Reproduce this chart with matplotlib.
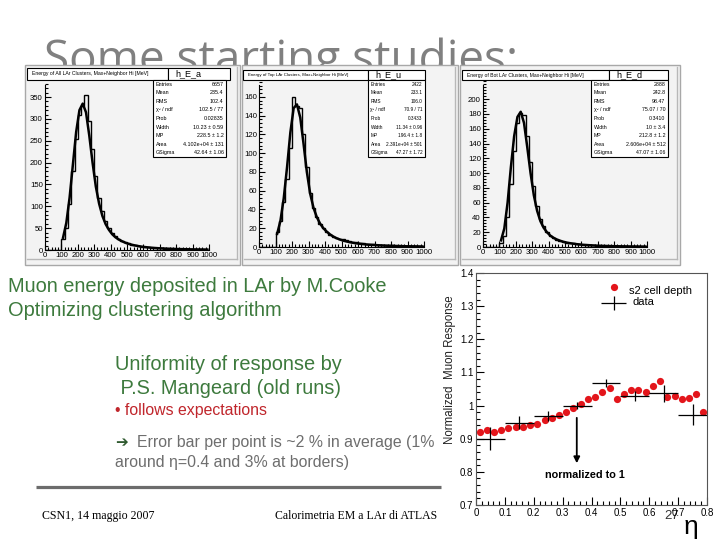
import matplotlib
matplotlib.use("Agg")
import matplotlib.pyplot as plt
from matplotlib.patches import Rectangle
from matplotlib.ticker import MultipleLocator, FormatStrFormatter
import numpy as np

plt.rcParams["font.family"] = ["Liberation Sans", "DejaVu Sans"]

W, H = 720, 540

# histogram panels: counts in 20 MeV bins from 100 MeV on (below 100 MeV: empty)
bin_edges = np.arange(0, 1001, 20)
fit_e = bin_edges[5:-1] + 10

all_counts = [25, 50, 105, 180, 255, 310, 330, 355, 295, 230, 170, 120, 90, 66, 50,
              40, 32, 26, 21, 18, 15, 12, 11, 9, 8, 7, 6, 5, 5, 4,
              4, 3, 3, 3, 2, 2, 2, 2, 2, 1, 1, 1, 1, 1, 1]
all_fit = [28, 62, 120, 195, 270, 320, 335, 315, 262, 200, 145, 106, 78, 59, 46,
           36, 29, 24, 20, 16.5, 14, 12, 10.3, 8.9, 7.7, 6.7, 5.9, 5.2, 4.6, 4.1,
           3.7, 3.3, 3.0, 2.7, 2.4, 2.2, 2.0, 1.8, 1.65, 1.5, 1.4, 1.3, 1.2, 1.1, 1.0]

top_counts = [16, 28, 48, 72, 105, 160, 150, 148, 120, 85, 58, 42, 32, 25, 20,
              16, 13, 11, 10, 9, 8, 7, 6, 5, 5, 4, 4, 3, 3, 3,
              2, 2, 2, 2, 2, 2, 1, 1, 1, 1, 1, 1, 1, 1, 1]
top_fit = [14, 28, 52, 85, 122, 148, 152, 138, 110, 80, 57, 42, 32, 25, 20,
           16.5, 13.5, 11.2, 9.4, 8, 6.8, 5.9, 5.1, 4.5, 3.9, 3.5, 3.1, 2.7, 2.4, 2.2,
           2.0, 1.8, 1.6, 1.4, 1.3, 1.2, 1.1, 1.0, 0.9, 0.8, 0.75, 0.7, 0.65, 0.6, 0.55]

bot_counts = [6, 15, 40, 85, 130, 168, 182, 178, 150, 115, 82, 55, 38, 28, 20,
              15, 12, 10, 8, 7, 6, 5, 5, 4, 4, 3, 3, 3, 3, 2,
              2, 2, 2, 2, 1, 1, 1, 1, 1, 1, 1, 1, 1, 1, 1]
bot_fit = [9, 25, 60, 108, 150, 176, 183, 168, 135, 100, 70, 49, 35, 26, 20,
           15.5, 12.5, 10.2, 8.5, 7.1, 6.0, 5.2, 4.5, 3.9, 3.4, 3.0, 2.7, 2.4, 2.1, 1.9,
           1.7, 1.5, 1.4, 1.25, 1.15, 1.05, 0.95, 0.88, 0.8, 0.74, 0.68, 0.63, 0.58, 0.54, 0.5]

hist_titles = ["Energy of All LAr Clusters, Max+Neighbor Hi [MeV]",
               "Energy of Top LAr Clusters, Max+Neighbor Hi [MeV]",
               "Energy of Bot LAr Clusters, Max+Neighbor Hi [MeV]"]
hist_names = ["h_E_a", "h_E_u", "h_E_d"]

stat_labels = ["Entries", "Mean", "RMS", "χ² / ndf", "Prob", "Width", "MP", "Area", "GSigma"]
stats_all = ["6657", "235.4", "102.4", "102.5 / 77", "0.02835", "10.23 ± 0.59",
             "228.5 ± 1.2", "4.102e+04 ± 131", "42.64 ± 1.06"]
stats_top = ["2422", "233.1", "106.0", "70.9 / 71", "0.3433", "11.34 ± 0.96",
             "196.4 ± 1.8", "2.391e+04 ± 501", "47.27 ± 1.72"]
stats_bot = ["2888", "242.8", "98.47", "75.07 / 70", "0.3410", "10 ± 3.4",
             "212.8 ± 1.2", "2.606e+04 ± 512", "47.07 ± 1.06"]

# uniformity plot
eta_sim = [0.0125, 0.0375, 0.0625, 0.0875, 0.1125, 0.1375, 0.1625, 0.1875,
           0.2125, 0.2375, 0.2625, 0.2875, 0.3125, 0.3375, 0.3625, 0.3875,
           0.4125, 0.4375, 0.4625, 0.4875, 0.5125, 0.5375, 0.5625, 0.5875,
           0.6125, 0.6375, 0.6625, 0.6875, 0.7125, 0.7375, 0.7625, 0.7875]
resp_sim = [0.920, 0.925, 0.920, 0.925, 0.932, 0.934, 0.934, 0.942,
            0.945, 0.955, 0.962, 0.972, 0.982, 0.992, 1.005, 1.020,
            1.027, 1.042, 1.054, 1.019, 1.036, 1.046, 1.048, 1.040,
            1.059, 1.073, 1.026, 1.029, 1.019, 1.022, 1.034, 0.980]
eta_data = [0.05, 0.15, 0.25, 0.35, 0.45, 0.55, 0.65, 0.75]
resp_data = [0.900, 0.948, 0.968, 1.000, 1.067, 1.030, 1.037, 0.972]
err_data = [0.035, 0.02, 0.015, 0.01, 0.012, 0.015, 0.025, 0.032]


def box(x0, y0, x1, y1):
    return [x0 / W, 1 - y1 / H, (x1 - x0) / W, (y1 - y0) / H]


fig = plt.figure(figsize=(7.2, 5.4), dpi=100)
bg = fig.add_axes([0, 0, 1, 1])
bg.set_xlim(0, W)
bg.set_ylim(H, 0)
bg.axis("off")

bg.text(44, 73, "Some starting studies:", fontsize=33, color="#808080",
        family=["Open Sans", "DejaVu Sans"], va="baseline", zorder=0.5)

# panels: window, plot box, title box, stats box
panels = [
    dict(win=(25, 65, 240, 265), plot=(45, 80, 209, 250), ymax=389, step=50,
         tbox=(27, 68, 168, 80), nbox=(168, 68, 230, 80), sbox=(153, 80, 226, 157),
         counts=all_counts, fit=all_fit, stats=stats_all, fs=3.9),
    dict(win=(242, 65, 458, 265), plot=(259, 80, 424, 247), ymax=178, step=20,
         tbox=(243, 70, 368, 80), nbox=(368, 70, 425, 80), sbox=(368, 80, 425, 157),
         counts=top_counts, fit=top_fit, stats=stats_top, fs=3.4),
    dict(win=(460, 65, 680, 265), plot=(483, 80, 647, 247), ymax=226, step=20,
         tbox=(462, 70, 609, 80), nbox=(609, 70, 668, 80), sbox=(591, 80, 668, 157),
         counts=bot_counts, fit=bot_fit, stats=stats_bot, fs=3.8),
]

for i, p in enumerate(panels):
    x0, y0, x1, y1 = p["win"]
    bg.add_patch(Rectangle((x0, y0), x1 - x0, y1 - y0, facecolor="#f3f3f3",
                           edgecolor="#a8a8a8", lw=1.0, zorder=2))
    bg.plot([x1 - 3, x1 - 3], [y0 + 2, y1 - 6], color="#b8b8b8", lw=1, zorder=2.1)
    bg.plot([x0 + 2, x1 - 3], [y1 - 6, y1 - 6], color="#b8b8b8", lw=1, zorder=2.1)

    tx0, ty0, tx1, ty1 = p["tbox"]
    bg.add_patch(Rectangle((tx0, ty0), tx1 - tx0, ty1 - ty0, facecolor="white",
                           edgecolor="black", lw=0.8, zorder=3))
    bg.text(tx0 + 5, (ty0 + ty1) / 2, hist_titles[i], fontsize=p["fs"] - 0.2,
            va="center", zorder=4)
    nx0, ny0, nx1, ny1 = p["nbox"]
    bg.add_patch(Rectangle((nx0, ny0), nx1 - nx0, ny1 - ny0, facecolor="white",
                           edgecolor="black", lw=0.8, zorder=3))
    bg.text(nx0 + 7, (ny0 + ny1) / 2, hist_names[i], fontsize=6.5, va="center", zorder=4)

    sx0, sy0, sx1, sy1 = p["sbox"]
    bg.add_patch(Rectangle((sx0, sy0), sx1 - sx0, sy1 - sy0, facecolor="white",
                           edgecolor="black", lw=0.8, zorder=3))
    row = (sy1 - sy0) / len(stat_labels)
    for k, (lab, val) in enumerate(zip(stat_labels, p["stats"])):
        yy = sy0 + row * (k + 0.5)
        bg.text(sx0 + 2.5, yy, lab, fontsize=p["fs"], va="center", zorder=4)
        bg.text(sx1 - 2.5, yy, val, fontsize=p["fs"], va="center", ha="right", zorder=4)

    ax = fig.add_axes(box(*p["plot"]))
    ax.set_facecolor("none")
    ax.stairs([0] * 5 + p["counts"], bin_edges, color="black", lw=1.0)
    ax.plot(fit_e, p["fit"], color="black", lw=1.8)
    for s in ["top", "right"]:
        ax.spines[s].set_visible(False)
    ax.xaxis.set_major_locator(MultipleLocator(100))
    ax.xaxis.set_minor_locator(MultipleLocator(20))
    ax.yaxis.set_minor_locator(MultipleLocator(p["step"] / 5))
    ax.set_yticks(np.arange(0, p["ymax"] * 0.95, p["step"]))
    ax.set_xlim(0, 1000)
    ax.set_ylim(0, p["ymax"])
    ax.spines["left"].set_bounds(0, p["ymax"] * 0.97)
    ax.tick_params(which="both", direction="in", labelsize=5.6, pad=1.5, width=0.8)
    ax.tick_params(which="major", length=4)
    ax.tick_params(which="minor", length=2)

# left side text
green = "#3d7a3d"
bg.text(8, 287, "Muon energy deposited in LAr by M.Cooke", fontsize=14.4, color=green, va="center")
bg.text(8, 310, "Optimizing clustering algorithm", fontsize=14.4, color=green, va="center")
bg.text(115, 365, "Uniformity of response by", fontsize=14.4, color=green, va="center")
bg.text(115, 388, " P.S. Mangeard (old runs)", fontsize=14.4, color=green, va="center")
bg.text(115, 411, "• follows expectations", fontsize=11.4, color="#c0262c", va="center")
bg.text(115, 443, "➔", fontsize=11, color="#2f5a2f", va="center", family=["DejaVu Sans"])
bg.text(137, 443, "Error bar per point is ~2 % in average (1%", fontsize=11.4,
        color="#6e6e6e", va="center")
bg.text(115, 463, "around η=0.4 and 3% at borders)", fontsize=11.4, color="#6e6e6e", va="center")
bg.plot([36, 441], [487, 487], color="#6c6c6c", lw=2.3, solid_capstyle="butt")
serif = ["Liberation Serif", "DejaVu Serif"]
bg.text(42, 516, "CSN1, 14 maggio 2007", fontsize=8.6, family=serif, va="center")
bg.text(275, 516, "Calorimetria EM a LAr di ATLAS", fontsize=8.5, family=serif, va="center")

# uniformity plot
ax2 = fig.add_axes(box(476, 273, 707, 505))
ax2.set_xlim(0, 0.8)
ax2.set_ylim(0.7, 1.4)
ax2.plot(eta_sim, resp_sim, "o", color="#e3151b", ms=5.2, mec="none")
ax2.errorbar(eta_data, resp_data, xerr=0.05, yerr=err_data, fmt="none",
             ecolor="black", elinewidth=0.9, capsize=0)
ax2.plot([0.4765], [1.358], "o", color="#e3151b", ms=5.2, mec="none")
ax2.errorbar([0.4765], [1.309], xerr=0.042, yerr=0.021, fmt="none",
             ecolor="black", elinewidth=0.9, capsize=0)
ax2.text(0.529, 1.345, "s2 cell depth", fontsize=8, va="center")
ax2.text(0.543, 1.313, "data", fontsize=8, va="center")
ax2.annotate("", xy=(0.349, 0.826), xytext=(0.349, 0.963),
             arrowprops=dict(arrowstyle="-|>", color="black", lw=1.3,
                             mutation_scale=9, shrinkA=0, shrinkB=0))
ax2.text(0.378, 0.791, "normalized to 1", fontsize=7.8, weight="bold", ha="center", va="center")
ax2.xaxis.set_major_locator(MultipleLocator(0.1))
ax2.xaxis.set_minor_locator(MultipleLocator(0.02))
ax2.yaxis.set_major_locator(MultipleLocator(0.1))
ax2.yaxis.set_minor_locator(MultipleLocator(0.02))
ax2.xaxis.set_major_formatter(FormatStrFormatter("%g"))
ax2.yaxis.set_major_formatter(FormatStrFormatter("%g"))
ax2.tick_params(which="both", direction="in", labelsize=7, pad=2, width=0.8,
                top=False, right=False)
ax2.tick_params(which="major", length=6)
ax2.tick_params(which="minor", length=3)
for s in ax2.spines.values():
    s.set_linewidth(0.8)
    s.set_color("#555555")

bg.text(450, 370, "Normalized  Muon Response", fontsize=8.3, rotation=90,
        ha="center", va="center", color="#222222")
bg.text(672, 516, "27", fontsize=9.5, ha="center", va="center", color="#333333")
bg.text(691, 527, "η", fontsize=19, ha="center", va="center")

fig.savefig("out.png", dpi=100)
